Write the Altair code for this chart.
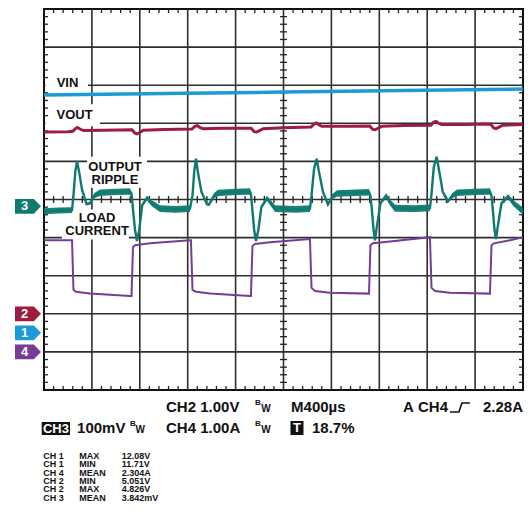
import altair as alt
import pandas as pd
import numpy as np

FONT = "Liberation Sans"
BLUE, CRIMSON, TEAL, PURPLE = "#1c9ad6", "#9d1c40", "#0f7a70", "#773c96"

# ---------------- data (time in µs, 400 µs/div; amplitude in screen divisions, centre = 0)
vin_t = [0, 1000, 2000, 3000, 4000]
vin_v = [2.74, 2.78, 2.82, 2.86, 2.90]

vout_t = [0, 200, 240, 262, 280, 300, 330, 500, 735, 760, 777, 800, 830, 1000,
          1235, 1260, 1280, 1300, 1330, 1500, 1730, 1755, 1775, 1800, 1830, 2000,
          2230, 2255, 2275, 2295, 2320, 2500, 2720, 2745, 2765, 2790, 2820, 3000,
          3230, 3255, 3275, 3295, 3320, 3500, 3730, 3755, 3775, 3800, 3830, 4000]
vout_v = [1.77, 1.78, 1.79, 1.86, 1.89, 1.85, 1.81, 1.82, 1.83, 1.74, 1.72, 1.76, 1.82, 1.84,
          1.85, 1.92, 1.94, 1.89, 1.86, 1.87, 1.87, 1.78, 1.77, 1.81, 1.86, 1.88,
          1.90, 1.98, 2.01, 1.96, 1.92, 1.92, 1.93, 1.84, 1.83, 1.87, 1.92, 1.94,
          1.95, 2.03, 2.05, 2.00, 1.97, 1.97, 1.98, 1.88, 1.86, 1.90, 1.95, 1.97]

ripple_t = [0, 120, 234,
            246, 262, 276, 292, 318, 355, 384, 420, 468, 600, 718,
            731, 743, 760, 777, 795, 820, 860, 900, 969, 1100, 1219,
            1240, 1255, 1269, 1286, 1315, 1360, 1378, 1420, 1453, 1600, 1720,
            1728, 1741, 1755, 1770, 1790, 1815, 1862, 1900, 1929, 2100, 2221,
            2234, 2255, 2277, 2295, 2330, 2371, 2410, 2447, 2600, 2714,
            2726, 2739, 2752, 2764, 2780, 2810, 2856, 2890, 2931, 3100, 3223,
            3236, 3255, 3279, 3297, 3330, 3373, 3410, 3449, 3600, 3724,
            3737, 3749, 3762, 3774, 3790, 3820, 3875, 3920, 3960, 4000]
ripple_v = [-0.31, -0.29, -0.28,
            0.10, 0.75, 1.00, 0.75, 0.25, -0.12, -0.10, 0.10, 0.18, 0.20, 0.21,
            0.15, -0.25, -0.80, -1.09, -0.80, -0.15, 0.04, -0.10, -0.24, -0.26, -0.24,
            0.10, 0.75, 1.07, 0.70, 0.20, -0.12, -0.13, 0.10, 0.17, 0.20, 0.21,
            0.15, -0.30, -0.80, -1.09, -0.80, -0.20, 0.03, -0.12, -0.24, -0.26, -0.24,
            0.10, 0.80, 1.07, 0.75, 0.20, -0.13, 0.08, 0.16, 0.18, 0.19,
            0.10, -0.30, -0.80, -1.07, -0.70, -0.10, 0.10, -0.08, -0.23, -0.24, -0.22,
            0.15, 0.85, 1.12, 0.80, 0.20, -0.05, 0.10, 0.18, 0.20, 0.21,
            0.10, -0.30, -0.80, -1.04, -0.70, -0.10, 0.08, -0.10, -0.20, -0.31]
# persistence spread (peak-to-peak, divisions)
ripple_s = [0.16, 0.16, 0.15,
            0.05, 0.04, 0.04, 0.04, 0.05, 0.06, 0.08, 0.14, 0.17, 0.17, 0.17,
            0.08, 0.05, 0.04, 0.04, 0.05, 0.08, 0.12, 0.16, 0.18, 0.18, 0.18,
            0.05, 0.04, 0.04, 0.04, 0.05, 0.06, 0.08, 0.14, 0.17, 0.17, 0.17,
            0.08, 0.05, 0.04, 0.04, 0.05, 0.08, 0.12, 0.16, 0.18, 0.18, 0.18,
            0.05, 0.04, 0.04, 0.04, 0.05, 0.07, 0.14, 0.17, 0.17, 0.17,
            0.08, 0.05, 0.04, 0.04, 0.05, 0.08, 0.12, 0.16, 0.18, 0.18, 0.18,
            0.05, 0.04, 0.04, 0.04, 0.05, 0.07, 0.14, 0.17, 0.17, 0.17,
            0.08, 0.05, 0.04, 0.04, 0.05, 0.08, 0.12, 0.16, 0.18, 0.18]

load_t = [0, 234, 246, 267, 384, 718, 731, 743, 760, 885, 1219, 1227, 1240, 1269, 1386,
          1720, 1728, 1741, 1762, 1887, 2221, 2234, 2263, 2388, 2714, 2726, 2747, 2889,
          3223, 3236, 3265, 3390, 3724, 3737, 3758, 3891, 4000]
load_v = [-1.07, -1.07, -2.37, -2.42, -2.47, -2.53, -2.53, -1.25, -1.20, -1.15, -1.07, -1.07,
          -2.37, -2.42, -2.47, -2.53, -2.53, -1.22, -1.17, -1.12, -1.04, -2.32, -2.40, -2.45,
          -2.47, -1.20, -1.15, -1.10, -0.99, -2.32, -2.40, -2.45, -2.47, -1.20, -1.15, -1.07, -0.99]

# channel ground markers
marker_ch = ["3", "2", "1", "4"]
marker_v = [-0.18, -3.0, -3.5, -4.0]

# trace labels
label_text = ["VIN", "VOUT", "OUTPUT", "RIPPLE", "LOAD", "CURRENT"]
label_t = [196, 255, 593, 593, 443, 443]
label_v = [3.05, 2.21, 0.85, 0.52, -0.49, -0.83]
box_t1 = [12, 12, 359, 150]
box_t2 = [367, 468, 860, 710]
box_v1 = [3.28, 2.50, 1.12, -0.26]
box_v2 = [2.81, 1.92, 0.31, -1.05]

# readout texts
big_text = ["CH2 1.00V", "M400µs", "A", "CH4", "100mV", "CH4 1.00A", "18.7%"]
big_t = [1019, 2063, 2998, 3123, 276, 1019, 2238]
big_v = [-5.446, -5.446, -5.446, -5.446, -5.997, -5.997, -5.997]
trig_level = "2.28A"
bw_text = ["B", "W", "B", "W", "B", "W"]
bw_t = [1762, 1815, 718, 765, 1762, 1815]
bw_v = [-5.34, -5.50, -5.89, -6.05, -5.89, -6.05]
bw_size = [8, 10, 8, 10, 8, 10]
inv_text = ["CH3", "T"]
inv_t1 = [-19, 2058]
inv_t2 = [217, 2167]
inv_tc = [100, 2113]
trig_t = [3390, 3465, 3490, 3557]
trig_v = [-5.577, -5.577, -5.341, -5.341]

meas_ch = ["CH 1", "CH 1", "CH 4", "CH 2", "CH 2", "CH 3"]
meas_kind = ["MAX", "MIN", "MEAN", "MIN", "MAX", "MEAN"]
meas_val = ["12.08V", "11.71V", "2.304A", "5.051V", "4.826V", "3.842mV"]
meas_v = [-6.732, -6.950, -7.168, -7.386, -7.604, -7.822]
meas_col_t = [-6, 295, 649]

# ---------------- scales
xs = alt.Scale(domain=[0, 4000], nice=False, zero=False)
ys = alt.Scale(domain=[-5, 5], nice=False, zero=False)


def X(f):
    return alt.X(f, type="quantitative", scale=xs, axis=None)


def Y(f):
    return alt.Y(f, type="quantitative", scale=ys, axis=None)


# grid
grid_v = pd.DataFrame({"x": [400 * i for i in range(1, 10)]})
grid_h = pd.DataFrame({"y": list(range(-4, 5))})
grid_color = "#2e2e2e"
g1 = alt.Chart(grid_v).mark_rule(color=grid_color, strokeWidth=1.6).encode(
    x=X("x"), y=alt.value(0), y2=alt.value(381))
g2 = alt.Chart(grid_h).mark_rule(color=grid_color, strokeWidth=1.6).encode(
    y=Y("y"), x=alt.value(0), x2=alt.value(479))

# minor ticks
mt = [80 * k for k in range(1, 50) if k % 5 != 0]
my = [round(0.2 * k, 1) for k in range(-24, 25) if k % 5 != 0]
TX, TY, CX, CY = 33, 0.105, 29, 0.092
rows = []
for t in mt:
    rows += [(t, t, 5, 5 - TY), (t, t, -5, -5 + TY), (t, t, -CY, CY)]
for y in my:
    rows += [(0, TX, y, y), (4000 - TX, 4000, y, y), (2000 - CX, 2000 + CX, y, y)]
ticks = pd.DataFrame(rows, columns=["x", "x2", "y", "y2"])
tk = alt.Chart(ticks).mark_rule(color="#222222", strokeWidth=1.3).encode(
    x=X("x"), x2="x2:Q", y=Y("y"), y2="y2:Q")

# label boxes and text
boxes = pd.DataFrame({"x": box_t1, "x2": box_t2, "y": box_v1, "y2": box_v2})
bx = alt.Chart(boxes).mark_rect(color="white").encode(
    x=X("x"), x2="x2:Q", y=Y("y"), y2="y2:Q")
labels = pd.DataFrame({"t": label_t, "v": label_v, "s": label_text})
lb = alt.Chart(labels).mark_text(font=FONT, fontWeight="bold", fontSize=13,
                                 color="#111111", baseline="middle").encode(
    x=X("t"), y=Y("v"), text="s:N")

# traces
vin_df = pd.DataFrame({"t": vin_t, "v": vin_v})
vout_df = pd.DataFrame({"t": vout_t, "v": vout_v})
load_df = pd.DataFrame({"t": load_t, "v": load_v})
rip = pd.DataFrame({"t": ripple_t, "v": ripple_v, "s": ripple_s})
rip["hi"] = rip["v"] + rip["s"] / 2
rip["lo"] = rip["v"] - rip["s"] / 2

l_load = alt.Chart(load_df).mark_line(color=PURPLE, strokeWidth=2).encode(x=X("t"), y=Y("v"))
l_vout = alt.Chart(vout_df).mark_line(color=CRIMSON, strokeWidth=3).encode(x=X("t"), y=Y("v"))
l_vin = alt.Chart(vin_df).mark_line(color=BLUE, strokeWidth=3.5).encode(x=X("t"), y=Y("v"))
a_rip = alt.Chart(rip).mark_area(color=TEAL, opacity=0.95).encode(x=X("t"), y=Y("hi"), y2="lo:Q")
l_rip = alt.Chart(rip).mark_line(color=TEAL, strokeWidth=2.4).encode(x=X("t"), y=Y("v"))

# channel markers
mk = pd.DataFrame({"ch": marker_ch, "v": marker_v})
cscale = alt.Scale(domain=["1", "2", "3", "4"], range=[BLUE, CRIMSON, TEAL, PURPLE])
m_shape = alt.Chart(mk).mark_point(
    shape="M-1,-0.57L0.45,-0.57L1,0L0.45,0.57L-1,0.57Z", size=676, filled=True,
    opacity=1, strokeWidth=0).encode(
    x=alt.value(-16), y=Y("v"), color=alt.Color("ch:N", scale=cscale, legend=None))
m_text = alt.Chart(mk).mark_text(font=FONT, fontWeight="bold", fontSize=13, color="white",
                                 baseline="middle").encode(
    x=alt.value(-19.5), y=Y("v"), text="ch:N")

# readout
big = pd.DataFrame({"t": big_t, "v": big_v, "s": big_text})
r_big = alt.Chart(big).mark_text(font=FONT, fontWeight="bold", fontSize=15, color="#111111",
                                 align="left", baseline="middle").encode(
    x=X("t"), y=Y("v"), text="s:N")
r_lvl = alt.Chart(pd.DataFrame({"t": [4000], "v": [-5.446], "s": [trig_level]})).mark_text(
    font=FONT, fontWeight="bold", fontSize=15, color="#111111", align="right",
    baseline="middle").encode(x=X("t"), y=Y("v"), text="s:N")
bw = pd.DataFrame({"t": bw_t, "v": bw_v, "s": bw_text, "z": bw_size})
r_bw = alt.Chart(bw).mark_text(font=FONT, fontWeight="bold", color="#111111", align="left",
                               baseline="middle").encode(
    x=X("t"), y=Y("v"), text="s:N", size=alt.Size("z:Q", scale=None, legend=None))
inv = pd.DataFrame({"x": inv_t1, "x2": inv_t2, "tc": inv_tc, "s": inv_text,
                    "y": [-5.84, -5.814], "y2": [-6.181, -6.181]})
r_inv = alt.Chart(inv).mark_rect(color="#111111").encode(x=X("x"), x2="x2:Q", y=Y("y"), y2="y2:Q")
r_invt = alt.Chart(inv).mark_text(font=FONT, fontWeight="bold", fontSize=13, color="white",
                                  baseline="middle").encode(
    x=X("tc"), y=alt.Y("v:Q", scale=ys, axis=None), text="s:N").transform_calculate(
    v="(datum.y + datum.y2) / 2")
trig = pd.DataFrame({"t": trig_t, "v": trig_v})
r_trig = alt.Chart(trig).mark_line(color="#111111", strokeWidth=1.6).encode(x=X("t"), y=Y("v"))

meas_rows = []
for ch, kind, val, v in zip(meas_ch, meas_kind, meas_val, meas_v):
    for col, s in enumerate([ch, kind, val]):
        meas_rows.append({"t": meas_col_t[col], "v": v, "s": s})
meas = pd.DataFrame(meas_rows)
r_meas = alt.Chart(meas).mark_text(font=FONT, fontWeight="bold", fontSize=9, color="#111111",
                                   align="left", baseline="middle").encode(
    x=X("t"), y=Y("v"), text="s:N")

chart = alt.layer(
    g1, g2, bx, tk, lb,
    l_load, l_vout, l_vin, a_rip, l_rip,
    m_shape, m_text,
    r_big, r_lvl, r_bw, r_inv, r_invt, r_trig, r_meas,
).properties(
    width=479, height=381,
    autosize=alt.AutoSizeParams(type="none"),
    padding={"left": 36, "top": 1, "right": 1, "bottom": 118},
    background="white",
).configure_view(stroke="#111111", strokeWidth=2)

chart.save("out.html", embed_options={"renderer": "svg", "actions": False})
